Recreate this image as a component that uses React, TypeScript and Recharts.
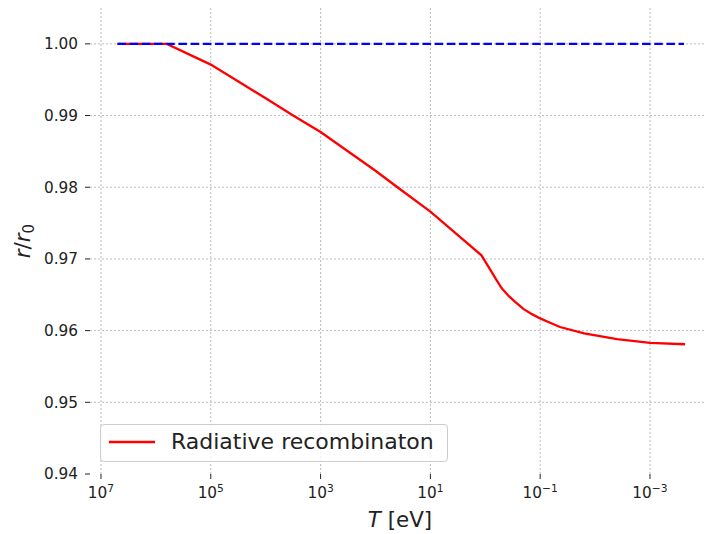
import { LineChart, Line, XAxis, YAxis, CartesianGrid, Legend } from 'recharts';

// log10 of T [eV]
const logT = [6.7, 5.8, 5.0, 4.0, 3.5, 3.0, 2.0, 1.6, 1.0, 0.07, -0.09, -0.2, -0.3, -0.43, -0.56, -0.7, -0.85, -1.0, -1.18, -1.36, -1.8, -2.4, -3.0, -3.64];
const radiative = [1.0, 1.0, 0.9971, 0.9924, 0.99, 0.9877, 0.9823, 0.98, 0.9766, 0.9705, 0.9685, 0.9671, 0.9659, 0.9648, 0.9639, 0.963, 0.9623, 0.9617, 0.9611, 0.9605, 0.9596, 0.9588, 0.9583, 0.9581];

// r0 reference (blue dashed)
const refLogT = [6.7, -3.62];
const refRatio = [1.0, 1.0];

const xTicks = [7, 5, 3, 1, -1, -3];
const yTicks = [0.94, 0.95, 0.96, 0.97, 0.98, 0.99, 1.0];
const gridY = [0.95, 0.96, 0.97, 0.98, 0.99, 1.0];
const legendLabel = 'Radiative recombinaton';

const radData = logT.map((t, i) => ({ logT: t, r: radiative[i] }));
const refData = refLogT.map((t, i) => ({ logT: t, r: refRatio[i] }));

const FONT = 'DejaVu Sans';
const INK = '#222';

const PowTick = (props: any) => {
  const { x, y, payload } = props;
  const e = payload.value;
  const exp = e < 0 ? `\u2212${Math.abs(e)}` : String(e);
  return (
    <text x={x} y={y + 15} textAnchor="middle" fontFamily={FONT} fontSize={15.3} fill={INK}>
      <tspan>10</tspan>
      <tspan fontSize={10.7} dy={-6}>{exp}</tspan>
    </text>
  );
};

const YLabel = () => (
  <text transform="translate(30,241) rotate(-90)" textAnchor="middle" fontFamily={FONT} fontSize={21.4} fill={INK}>
    <tspan fontStyle="italic">r</tspan>
    <tspan>/</tspan>
    <tspan fontStyle="italic">r</tspan>
    <tspan fontSize={15} dy={4}>0</tspan>
  </text>
);

const XLabel = () => (
  <text x={400} y={527} textAnchor="middle" fontFamily={FONT} fontSize={21.4} fill={INK}>
    <tspan fontStyle="italic">T</tspan>
    <tspan> [eV]</tspan>
  </text>
);

const LegendBox = () => (
  <div
    style={{
      position: 'relative',
      width: 348,
      height: 38,
      boxSizing: 'border-box',
      border: '1px solid #cccccc',
      borderRadius: 4,
      background: 'rgba(255,255,255,0.8)',
      fontFamily: FONT,
    }}
  >
    <svg width={48} height={38} style={{ position: 'absolute', left: 7, top: 0 }}>
      <line x1={1} y1={17} x2={47} y2={17} stroke="#ff0000" strokeWidth={2.3} />
    </svg>
    <span style={{ position: 'absolute', left: 70, top: 4, fontSize: 22, lineHeight: '26px', color: INK, whiteSpace: 'nowrap' }}>
      {legendLabel}
    </span>
  </div>
);

export default function App() {
  return (
    <div style={{ position: 'absolute', left: 0, top: 0, width: 704, height: 534, background: '#fff', overflow: 'hidden' }}>
      <LineChart width={704} height={534} margin={{ top: 8, right: 0, bottom: 0, left: 0 }}>
        <CartesianGrid
          stroke="#aaaaaa"
          strokeWidth={0.8}
          strokeDasharray="2 2"
          horizontalValues={gridY}
          verticalValues={xTicks}
        />
        <XAxis
          type="number"
          dataKey="logT"
          domain={[-3.984, 7.2]}
          reversed
          allowDataOverflow
          ticks={xTicks}
          interval={0}
          axisLine={false}
          tickLine={{ stroke: INK, strokeWidth: 1 }}
          tickSize={5}
          tickMargin={4}
          height={60}
          tick={<PowTick />}
          label={<XLabel />}
        />
        <YAxis
          type="number"
          dataKey="r"
          domain={[0.94, 1.005]}
          allowDataOverflow
          ticks={yTicks}
          interval={0}
          width={90}
          axisLine={false}
          tickLine={{ stroke: INK, strokeWidth: 1 }}
          tickSize={5}
          tickMargin={7}
          tickFormatter={(v: number) => v.toFixed(2)}
          tick={{ fontFamily: FONT, fontSize: 15.3, fill: INK }}
          label={<YLabel />}
        />
        <Line
          data={radData}
          dataKey="r"
          type="linear"
          stroke="#ff0000"
          strokeWidth={2.3}
          dot={false}
          isAnimationActive={false}
          name={legendLabel}
        />
        <Line
          data={refData}
          dataKey="r"
          type="linear"
          stroke="#0000ff"
          strokeWidth={2.3}
          strokeDasharray="8.5 3.7"
          dot={false}
          isAnimationActive={false}
          legendType="none"
        />
        <Legend
          layout="horizontal"
          verticalAlign="middle"
          align="center"
          wrapperStyle={{ left: 100, top: 424, width: 348, height: 38 }}
          content={() => <LegendBox />}
        />
      </LineChart>
    </div>
  );
}
